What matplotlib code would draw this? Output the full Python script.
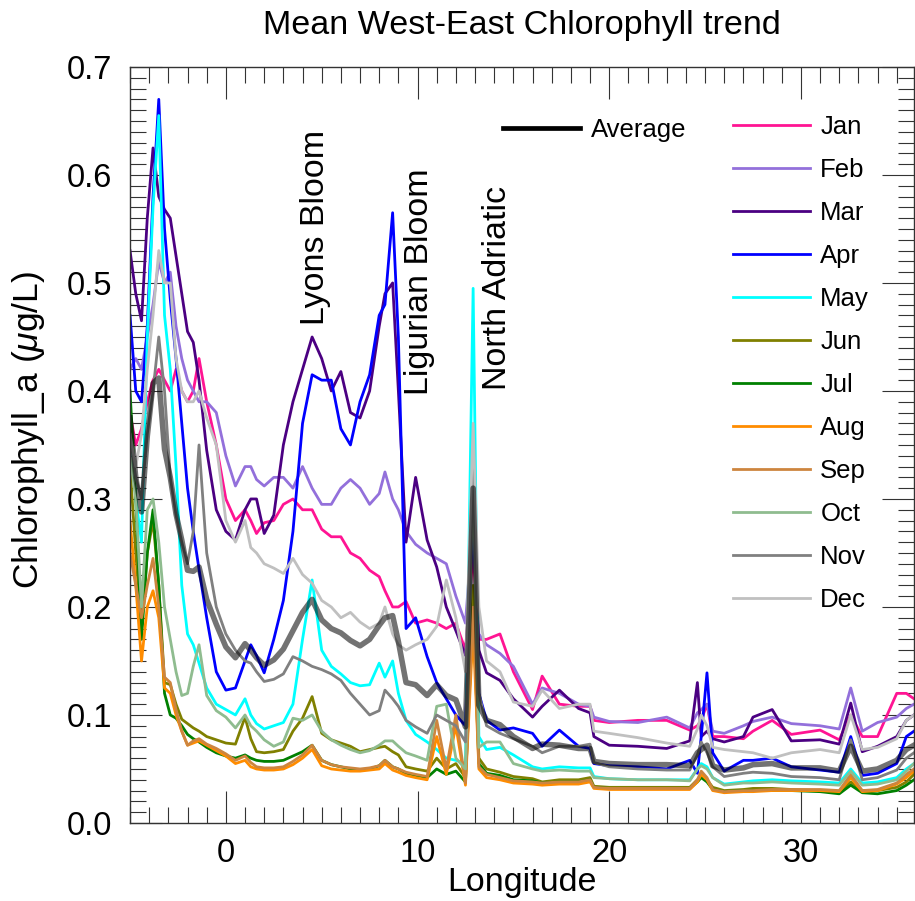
import matplotlib
matplotlib.use('Agg')
import matplotlib.pyplot as plt
from matplotlib.lines import Line2D
from matplotlib.ticker import MultipleLocator, FormatStrFormatter

# Longitude grid the values were read at
lon = [-5.0, -4.7, -4.4, -4.1, -3.8, -3.5, -3.2, -2.9, -2.6, -2.3,
       -2.0, -1.7, -1.4, -1.0, -0.5, 0.0, 0.5, 1.0, 1.3, 1.6,
       2.0, 2.5, 3.0, 3.5, 4.0, 4.5, 5.0, 5.5, 6.0, 6.5,
       7.0, 7.5, 8.0, 8.3, 8.7, 9.0, 9.4, 9.9, 10.5, 11.0,
       11.5, 12.0, 12.5, 12.9, 13.2, 13.6, 14.3, 15.0, 16.0, 16.5,
       17.4, 18.4, 19.0, 19.2, 20.0, 21.5, 23.0, 24.2, 24.6, 24.8,
       25.1, 25.4, 26.0, 27.0, 27.5, 28.5, 29.5, 31.0, 32.0, 32.6,
       33.2, 34.0, 35.0, 35.5, 35.9]

# Monthly mean chlorophyll (ug/L)
jan = [0.38, 0.35, 0.365, 0.39, 0.41, 0.42, 0.41, 0.40, 0.42, 0.40,
       0.39, 0.40, 0.43, 0.39, 0.35, 0.30, 0.28, 0.29, 0.28, 0.268,
       0.278, 0.28, 0.295, 0.30, 0.29, 0.29, 0.272, 0.265, 0.265, 0.25,
       0.245, 0.234, 0.228, 0.215, 0.20, 0.20, 0.205, 0.185, 0.188, 0.185,
       0.18, 0.185, 0.16, 0.25, 0.17, 0.17, 0.175, 0.14, 0.105, 0.136,
       0.11, 0.108, 0.108, 0.095, 0.093, 0.095, 0.095, 0.086, 0.09, 0.095,
       0.11, 0.08, 0.08, 0.078, 0.085, 0.095, 0.082, 0.086, 0.077, 0.10,
       0.08, 0.08, 0.12, 0.12, 0.115]
feb = [0.42, 0.43, 0.42, 0.45, 0.48, 0.52, 0.50, 0.51, 0.46, 0.43,
       0.41, 0.40, 0.39, 0.39, 0.38, 0.34, 0.312, 0.33, 0.33, 0.318,
       0.312, 0.32, 0.32, 0.31, 0.33, 0.31, 0.295, 0.295, 0.31, 0.318,
       0.31, 0.295, 0.305, 0.325, 0.30, 0.29, 0.27, 0.258, 0.25, 0.245,
       0.24, 0.21, 0.185, 0.28, 0.175, 0.165, 0.157, 0.145, 0.11, 0.125,
       0.12, 0.11, 0.108, 0.098, 0.094, 0.093, 0.098, 0.088, 0.102, 0.105,
       0.11, 0.085, 0.083, 0.09, 0.094, 0.098, 0.092, 0.09, 0.087, 0.125,
       0.085, 0.093, 0.098, 0.106, 0.11]
mar = [0.53, 0.49, 0.465, 0.56, 0.625, 0.58, 0.568, 0.56, 0.525, 0.49,
       0.455, 0.445, 0.41, 0.345, 0.29, 0.27, 0.262, 0.29, 0.30, 0.30,
       0.268, 0.285, 0.35, 0.39, 0.42, 0.45, 0.43, 0.40, 0.418, 0.38,
       0.375, 0.40, 0.46, 0.49, 0.50, 0.40, 0.26, 0.32, 0.262, 0.237,
       0.20, 0.178, 0.155, 0.27, 0.16, 0.139, 0.132, 0.115, 0.098, 0.108,
       0.123, 0.106, 0.102, 0.08, 0.072, 0.071, 0.069, 0.076, 0.13, 0.08,
       0.085, 0.078, 0.075, 0.08, 0.098, 0.105, 0.076, 0.077, 0.073, 0.111,
       0.066, 0.071, 0.08, 0.095, 0.10]
apr = [0.47, 0.40, 0.39, 0.46, 0.58, 0.67, 0.55, 0.485, 0.43, 0.37,
       0.31, 0.27, 0.235, 0.19, 0.14, 0.123, 0.125, 0.15, 0.165, 0.155,
       0.139, 0.17, 0.206, 0.27, 0.37, 0.415, 0.41, 0.41, 0.365, 0.35,
       0.39, 0.415, 0.47, 0.48, 0.565, 0.45, 0.18, 0.19, 0.154, 0.13,
       0.115, 0.10, 0.09, 0.30, 0.12, 0.095, 0.086, 0.088, 0.083, 0.071,
       0.086, 0.071, 0.069, 0.055, 0.053, 0.052, 0.05, 0.058, 0.046, 0.08,
       0.139, 0.065, 0.048, 0.058, 0.058, 0.06, 0.052, 0.049, 0.047, 0.08,
       0.044, 0.046, 0.055, 0.08, 0.085]
may = [0.38, 0.30, 0.26, 0.45, 0.57, 0.655, 0.47, 0.42, 0.33, 0.22,
       0.175, 0.165, 0.148, 0.125, 0.11, 0.105, 0.10, 0.115, 0.10, 0.092,
       0.087, 0.09, 0.093, 0.11, 0.17, 0.225, 0.16, 0.145, 0.138, 0.13,
       0.127, 0.128, 0.148, 0.135, 0.15, 0.12, 0.095, 0.082, 0.075, 0.068,
       0.06, 0.058, 0.055, 0.495, 0.08, 0.068, 0.07, 0.063, 0.052, 0.05,
       0.052, 0.051, 0.051, 0.043, 0.041, 0.04, 0.04, 0.04, 0.05, 0.055,
       0.052, 0.042, 0.036, 0.038, 0.039, 0.04, 0.039, 0.038, 0.037, 0.05,
       0.037, 0.038, 0.042, 0.05, 0.055]
jun = [0.33, 0.25, 0.18, 0.25, 0.28, 0.22, 0.13, 0.128, 0.11, 0.096,
       0.092, 0.088, 0.085, 0.08, 0.077, 0.074, 0.073, 0.098, 0.078, 0.066,
       0.065, 0.066, 0.068, 0.085, 0.097, 0.117, 0.083, 0.077, 0.074, 0.071,
       0.066, 0.068, 0.07, 0.071, 0.066, 0.063, 0.052, 0.05, 0.048, 0.06,
       0.05, 0.055, 0.042, 0.22, 0.06, 0.05, 0.047, 0.043, 0.041, 0.038,
       0.04, 0.04, 0.042, 0.034, 0.033, 0.033, 0.033, 0.033, 0.04, 0.043,
       0.04, 0.033, 0.03, 0.031, 0.032, 0.032, 0.031, 0.03, 0.029, 0.038,
       0.03, 0.03, 0.033, 0.038, 0.045]
jul = [0.40, 0.30, 0.17, 0.25, 0.29, 0.22, 0.12, 0.10, 0.097, 0.09,
       0.082, 0.078, 0.075, 0.07, 0.065, 0.062, 0.06, 0.063, 0.06, 0.058,
       0.057, 0.057, 0.058, 0.062, 0.066, 0.072, 0.058, 0.054, 0.052, 0.05,
       0.049, 0.05, 0.053, 0.058, 0.052, 0.05, 0.046, 0.044, 0.042, 0.05,
       0.045, 0.048, 0.038, 0.20, 0.055, 0.046, 0.044, 0.04, 0.039, 0.037,
       0.038, 0.038, 0.04, 0.033, 0.032, 0.032, 0.032, 0.032, 0.038, 0.042,
       0.038, 0.031, 0.029, 0.03, 0.03, 0.03, 0.03, 0.029, 0.027, 0.035,
       0.028, 0.027, 0.03, 0.035, 0.04]
aug = [0.28, 0.22, 0.15, 0.20, 0.215, 0.19, 0.125, 0.12, 0.10, 0.085,
       0.072, 0.074, 0.076, 0.072, 0.067, 0.062, 0.055, 0.058, 0.052, 0.05,
       0.049, 0.049, 0.05, 0.054, 0.06, 0.068, 0.053, 0.05, 0.049, 0.048,
       0.048, 0.049, 0.05, 0.055, 0.049, 0.047, 0.044, 0.042, 0.04, 0.08,
       0.045, 0.09, 0.035, 0.18, 0.05, 0.042, 0.04, 0.037, 0.036, 0.035,
       0.036, 0.036, 0.038, 0.032, 0.031, 0.031, 0.031, 0.031, 0.038, 0.045,
       0.04, 0.03, 0.028, 0.029, 0.029, 0.03, 0.03, 0.03, 0.029, 0.042,
       0.029, 0.03, 0.036, 0.042, 0.048]
sep = [0.25, 0.22, 0.19, 0.22, 0.245, 0.20, 0.135, 0.13, 0.105, 0.085,
       0.072, 0.076, 0.078, 0.073, 0.069, 0.064, 0.058, 0.062, 0.056, 0.052,
       0.051, 0.051, 0.052, 0.057, 0.063, 0.072, 0.058, 0.054, 0.052, 0.051,
       0.05, 0.051, 0.053, 0.058, 0.052, 0.05, 0.047, 0.045, 0.043, 0.095,
       0.05, 0.10, 0.037, 0.20, 0.052, 0.045, 0.042, 0.039, 0.038, 0.037,
       0.038, 0.038, 0.04, 0.033, 0.032, 0.032, 0.032, 0.032, 0.04, 0.048,
       0.042, 0.031, 0.029, 0.03, 0.03, 0.031, 0.031, 0.031, 0.03, 0.045,
       0.03, 0.031, 0.037, 0.045, 0.05]
oct_ = [0.34, 0.30, 0.20, 0.29, 0.30, 0.26, 0.20, 0.17, 0.14, 0.118,
        0.12, 0.145, 0.165, 0.118, 0.104, 0.098, 0.088, 0.10, 0.09, 0.085,
        0.077, 0.071, 0.075, 0.097, 0.095, 0.10, 0.085, 0.077, 0.072, 0.068,
        0.065, 0.067, 0.072, 0.076, 0.076, 0.071, 0.065, 0.062, 0.058, 0.108,
        0.11, 0.06, 0.05, 0.32, 0.07, 0.075, 0.075, 0.055, 0.05, 0.048,
        0.049, 0.048, 0.048, 0.042, 0.041, 0.04, 0.04, 0.039, 0.05, 0.053,
        0.05, 0.042, 0.035, 0.037, 0.037, 0.038, 0.037, 0.036, 0.035, 0.048,
        0.035, 0.036, 0.04, 0.048, 0.055]
nov = [0.36, 0.32, 0.30, 0.36, 0.40, 0.45, 0.40, 0.32, 0.285, 0.26,
       0.24, 0.27, 0.35, 0.25, 0.20, 0.175, 0.16, 0.15, 0.148, 0.14,
       0.131, 0.133, 0.138, 0.154, 0.15, 0.145, 0.142, 0.138, 0.132, 0.12,
       0.11, 0.10, 0.104, 0.123, 0.115, 0.108, 0.095, 0.089, 0.083, 0.10,
       0.095, 0.09, 0.075, 0.33, 0.12, 0.09, 0.083, 0.078, 0.071, 0.065,
       0.071, 0.071, 0.073, 0.056, 0.052, 0.05, 0.049, 0.049, 0.063, 0.075,
       0.065, 0.052, 0.043, 0.046, 0.047, 0.046, 0.043, 0.042, 0.04, 0.077,
       0.04, 0.042, 0.049, 0.06, 0.065]
dec = [0.36, 0.33, 0.36, 0.42, 0.47, 0.53, 0.50, 0.50, 0.43, 0.40,
       0.39, 0.39, 0.40, 0.375, 0.35, 0.28, 0.26, 0.28, 0.255, 0.25,
       0.24, 0.236, 0.231, 0.245, 0.23, 0.222, 0.206, 0.20, 0.19, 0.195,
       0.186, 0.18, 0.185, 0.20, 0.175, 0.165, 0.16, 0.165, 0.17, 0.182,
       0.225, 0.19, 0.14, 0.37, 0.20, 0.15, 0.14, 0.112, 0.108, 0.123,
       0.106, 0.11, 0.11, 0.085, 0.083, 0.079, 0.074, 0.071, 0.087, 0.10,
       0.09, 0.07, 0.068, 0.066, 0.065, 0.06, 0.065, 0.068, 0.065, 0.10,
       0.068, 0.07, 0.078, 0.095, 0.10]
# Average curve (thick translucent line)
avg = [0.375, 0.32, 0.288, 0.358, 0.407, 0.412, 0.346, 0.32, 0.286, 0.262,
       0.234, 0.233, 0.237, 0.207, 0.184, 0.163, 0.153, 0.166, 0.16, 0.153,
       0.146, 0.151, 0.161, 0.178, 0.195, 0.207, 0.188, 0.18, 0.176, 0.169,
       0.164, 0.17, 0.183, 0.19, 0.192, 0.168, 0.13, 0.128, 0.118, 0.128,
       0.118, 0.114, 0.089, 0.31, 0.109, 0.095, 0.091, 0.08, 0.069, 0.073,
       0.072, 0.069, 0.069, 0.057, 0.055, 0.054, 0.054, 0.053, 0.065, 0.068,
       0.072, 0.053, 0.049, 0.051, 0.054, 0.055, 0.051, 0.051, 0.048, 0.071,
       0.048, 0.05, 0.058, 0.068, 0.072]

months = ['Jan', 'Feb', 'Mar', 'Apr', 'May', 'Jun',
          'Jul', 'Aug', 'Sep', 'Oct', 'Nov', 'Dec']
series = [jan, feb, mar, apr, may, jun, jul, aug, sep, oct_, nov, dec]
colors = ['#ff1493', '#9370db', '#4b0082', '#0000ff', '#00ffff', '#808000',
          '#008000', '#ff8c00', '#cd853f', '#8fbc8f', '#808080', '#c0c0c0']

plt.rcParams['font.family'] = 'Liberation Sans'
plt.rcParams['mathtext.fontset'] = 'custom'
plt.rcParams['mathtext.rm'] = 'Liberation Sans'
plt.rcParams['mathtext.it'] = 'Liberation Sans:italic'

fig = plt.figure(figsize=(9.15, 9.01), dpi=100)
ax = fig.add_axes([0.1421, 0.0866, 0.8568, 0.8391])

# Plot months then the average on top
month_lines = []
for name, col, vals in zip(months, colors, series):
    ln, = ax.plot(lon, vals, color=col, lw=2.0, label=name)
    month_lines.append(ln)
ax.plot(lon, avg, color='black', lw=4.0, alpha=0.55)

# Axes, ticks
ax.set_xlim(-5, 35.9)
ax.set_ylim(0, 0.7)
ax.xaxis.set_major_locator(MultipleLocator(10))
ax.xaxis.set_minor_locator(MultipleLocator(1))
ax.yaxis.set_major_locator(MultipleLocator(0.1))
ax.yaxis.set_minor_locator(MultipleLocator(0.01))
ax.yaxis.set_major_formatter(FormatStrFormatter('%.1f'))
ax.tick_params(which='both', direction='in', top=True, right=True,
               color='#333333', width=0.8)
ax.tick_params(which='major', length=23, labelsize=23.5)
ax.tick_params(which='minor', length=11.5)
ax.tick_params(axis='y', which='major', pad=13)
ax.tick_params(axis='x', which='major', pad=11)
for sp in ax.spines.values():
    sp.set_color('#333333')
    sp.set_linewidth(1.0)

ax.set_title('Mean West-East Chlorophyll trend', fontsize=24.5, pad=24)
ax.set_xlabel('Longitude', fontsize=24.5)
ax.xaxis.set_label_coords(0.5, -0.058)
ax.set_ylabel('Chlorophyll_a ($\\mu$g/L)', fontsize=25.5)
ax.yaxis.set_label_coords(-0.106, 0.52)

# Region labels
ax.text(4.66, 0.461, 'Lyons Bloom', rotation=90, ha='center', va='bottom', fontsize=24.5)
ax.text(10.1, 0.396, 'Ligurian Bloom', rotation=90, ha='center', va='bottom', fontsize=24.5)
ax.text(14.15, 0.401, 'North Adriatic', rotation=90, ha='center', va='bottom', fontsize=24.5)

# Legends
avg_handle = Line2D([], [], color='black', lw=3.4)
leg1 = ax.legend([avg_handle], ['Average'], loc='upper left',
                 bbox_to_anchor=(0.476, 0.932), frameon=False, fontsize=18.5,
                 handlelength=3.0, handletextpad=0.4, borderpad=0, borderaxespad=0)
ax.add_artist(leg1)
ax.legend(handles=month_lines, loc='upper left', bbox_to_anchor=(0.769, 0.937),
          frameon=False, fontsize=18.5, handlelength=3.0, handletextpad=0.4,
          labelspacing=0.74, borderpad=0, borderaxespad=0)

fig.savefig('out.png', dpi=100)
